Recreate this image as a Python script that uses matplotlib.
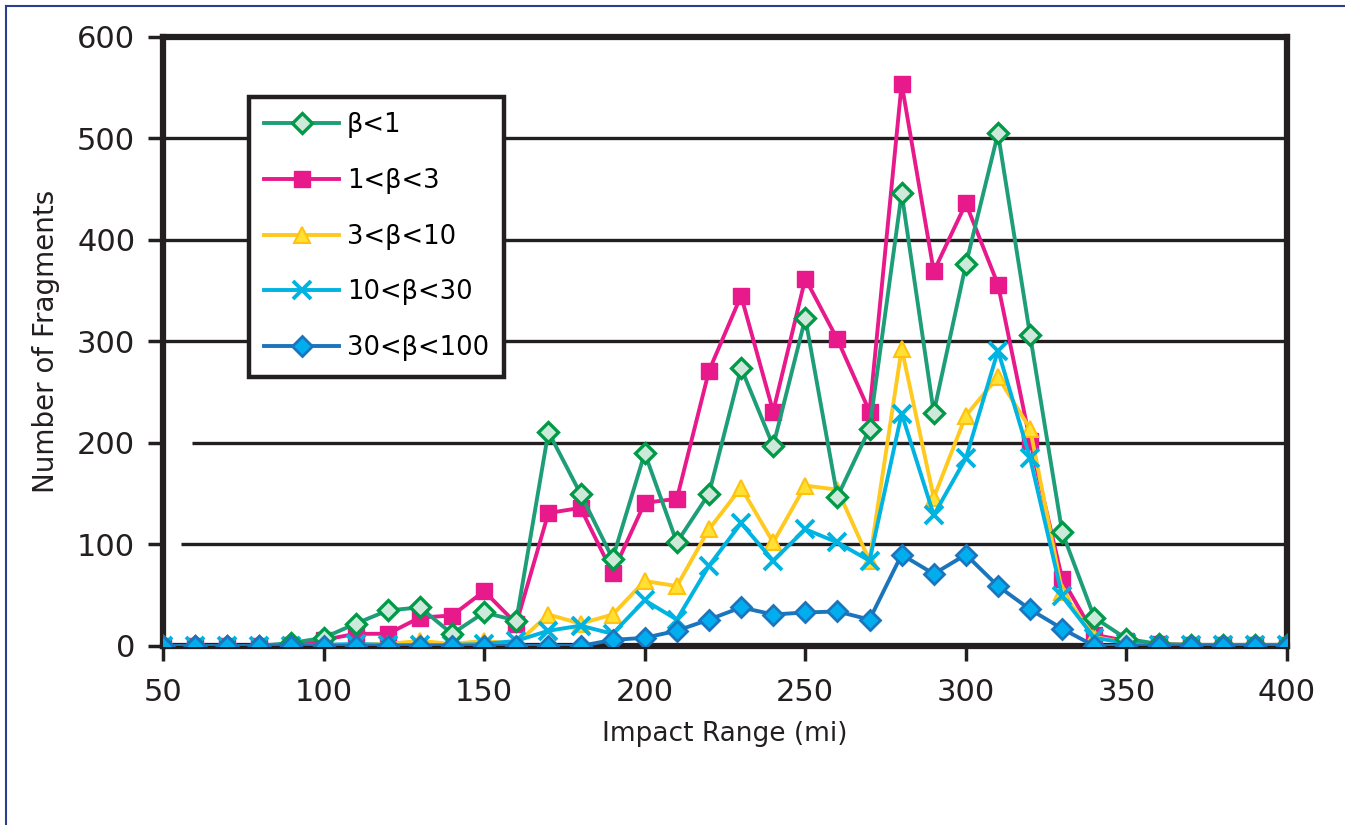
import numpy as np
import matplotlib.pyplot as plt
from matplotlib.lines import Line2D

# impact range bins (mi)
impact_range = list(range(50, 401, 10))

# fragment counts per ballistic coefficient class
beta_lt1 = [0, 0, 0, 0, 3, 8, 22, 35, 38, 12, 33, 25, 211, 150, 86, 190, 102, 150,
            274, 197, 323, 147, 214, 446, 230, 376, 505, 306, 112, 28, 7, 2, 1, 1, 1, 1]
beta_1_3 = [0, 0, 0, 0, 1, 6, 12, 12, 28, 30, 54, 22, 131, 136, 72, 141, 145, 271,
            345, 231, 362, 302, 231, 554, 369, 436, 356, 202, 66, 11, 5, 2, 1, 1, 1, 1]
beta_3_10 = [0, 0, 0, 0, 0, 0, 1, 2, 5, 2, 5, 2, 31, 22, 31, 64, 59, 115,
             156, 102, 158, 154, 84, 293, 146, 227, 265, 214, 53, 9, 3, 2, 1, 1, 1, 1]
beta_10_30 = [0, 0, 0, 0, 0, 1, 2, 1, 1, 1, 2, 5, 15, 20, 12, 45, 26, 79,
              121, 84, 115, 102, 84, 229, 129, 185, 291, 185, 49, 8, 3, 1, 1, 1, 1, 1]
beta_30_100 = [0, 0, 0, 0, 0, 0, 0, 0, 0, 0, 0, 0, 0, 0, 6, 8, 15, 26,
               38, 31, 33, 34, 26, 90, 71, 90, 59, 36, 17, 0, 0, 0, 0, 0, 0, 0]

labels = ['β<1', '1<β<3', '3<β<10', '10<β<30', '30<β<100']

plt.rcParams['font.family'] = ['DejaVu Sans']

fig = plt.figure(figsize=(13.45, 8.25), dpi=100)
ax = fig.add_axes([0.1212, 0.2170, 0.8357, 0.7382])

# thin frame lines along top and left of the figure
fig.add_artist(Line2D([6 / 1345, 1], [1 - 6 / 825, 1 - 6 / 825], color='#2b3f8c', lw=1.5,
                      transform=fig.transFigure))
fig.add_artist(Line2D([6 / 1345, 6 / 1345], [0, 1 - 6 / 825], color='#2b3f8c', lw=1.5,
                      transform=fig.transFigure))

ax.set_xlim(50, 400)
ax.set_ylim(0, 600)

# horizontal grid lines
ax.hlines([300, 400, 500], 50, 400, color='#231f20', lw=2.4, zorder=1)
ax.hlines([200], 59, 400, color='#231f20', lw=2.4, zorder=1)
ax.hlines([100], 55.5, 400, color='#231f20', lw=2.4, zorder=1)

lw = 2.8
ax.plot(impact_range, beta_lt1, color='#1e9e78', lw=lw, marker='D', ms=10,
        mfc='#cde9d9', mec='#009a48', mew=2.4, label=labels[0], zorder=4)
ax.plot(impact_range, beta_1_3, color='#e8198b', lw=lw, marker='s', ms=12,
        mfc='#e8198b', mec='#e8198b', label=labels[1], zorder=3)
ax.plot(impact_range, beta_3_10, color='#ffc91f', lw=lw, marker='^', ms=12,
        mfc='#ffe033', mec='#ffc20e', mew=1.5, label=labels[2], zorder=3)
ax.plot(impact_range, beta_10_30, color='#00b3e0', lw=lw, marker='x', ms=13,
        mew=2.8, label=labels[3], zorder=3)
ax.plot(impact_range, beta_30_100, color='#1b75bc', lw=lw, marker='D', ms=10,
        mfc='#00aeef', mec='#1b75bc', mew=2.0, label=labels[4], zorder=5)

for s in ax.spines.values():
    s.set_linewidth(4.5)
    s.set_color('#231f20')
    s.set_zorder(2)

ax.set_xticks(range(50, 401, 50))
ax.set_yticks(range(0, 601, 100))
ax.tick_params(axis='both', which='major', labelsize=22, colors='#231f20',
               width=2.5, length=11, direction='out')
ax.tick_params(axis='x', pad=12)
ax.tick_params(axis='y', pad=9)

ax.set_xlabel('Impact Range (mi)', fontsize=19, color='#231f20', labelpad=10)
ax.set_ylabel('Number of Fragments', fontsize=20, color='#231f20', labelpad=12)

leg = ax.legend(loc='upper left', bbox_to_anchor=(0.0765, 0.902), fontsize=18.5,
                frameon=True, fancybox=False, framealpha=1, edgecolor='#231f20',
                handlelength=2.9, handletextpad=0.3, labelspacing=1.16,
                borderpad=0.6, borderaxespad=0)
leg.get_frame().set_linewidth(3.2)
leg.set_zorder(6)

fig.savefig('out.png', dpi=100)
